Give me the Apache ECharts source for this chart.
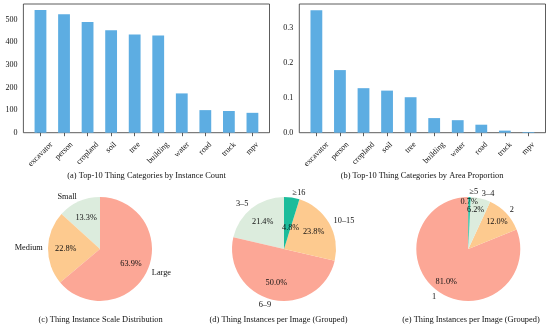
<!DOCTYPE html>
<html><head><meta charset="utf-8">
<script src="https://cdn.jsdelivr.net/npm/echarts@6/dist/echarts.min.js"></script>
<style>html,body{margin:0;padding:0;background:#fff}#c{width:550px;height:329px}</style>
</head><body><div id="c"></div>
<script>
const categories = ['excavator','person','cropland','soil','tree','building','water','road','truck','mpv'];
const instanceCounts = [543, 525, 490, 454, 435, 431, 174, 100, 96, 88];
const areaProportions = [0.352, 0.180, 0.128, 0.121, 0.102, 0.042, 0.036, 0.023, 0.006, 0.002];
const countTicks = [0, 100, 200, 300, 400, 500];
const areaTicks = [0, 0.1, 0.2, 0.3];
const scaleLabels = ['Small', 'Medium', 'Large'];
const scaleValues = [13.3, 22.8, 63.9];
const groupLabelsD = ['3–5', '6–9', '10–15', '≥16'];
const groupValuesD = [21.4, 50.0, 23.8, 4.8];
const groupLabelsE = ['1', '2', '3–4', '≥5'];
const groupValuesE = [81.0, 12.0, 6.2, 0.7];
const titles = ['(a) Top-10 Thing Categories by Instance Count','(b) Top-10 Thing Categories by Area Proportion',
  '(c) Thing Instance Scale Distribution','(d) Thing Instances per Image (Grouped)','(e) Thing Instances per Image (Grouped)'];

const FONT = '"Liberation Serif", "Times New Roman", serif';
const TXT = '#111';
const TICK_FS = 8;
const PIE_FS = 8.3;
const BAR = '#5dade2';
const C_GREEN = '#dcecdd', C_ORANGE = '#fdca8f', C_SALMON = '#fca796', C_TEAL = '#1bbc9b';

const ctx = document.createElement('canvas').getContext('2d');
ctx.font = TICK_FS + 'px ' + FONT;
const rich = {};
categories.forEach((c, i) => {
  const w = ctx.measureText(c).width;
  const p = 0.5 * (w + 9);
  rich['c' + i] = {padding: [p, p, 0, 0], fontSize: TICK_FS, fontFamily: FONT, color: TXT};
});

function barAxes(gi, ticks, max, fmt) {
  return {
    x: {gridIndex: gi, type: 'value', min: -0.725, max: 9.725,
      splitLine: {show: false}, axisLine: {show: false},
      axisTick: {show: true, length: 3.5, customValues: categories.map((_, i) => i), lineStyle: {color: '#333', width: 0.8}},
      axisLabel: {customValues: categories.map((_, i) => i), rotate: 45, align: 'center', verticalAlign: 'middle', margin: 7.5,
        formatter: v => '{c' + v + '|' + categories[v] + '}', rich: rich}},
    y: {gridIndex: gi, type: 'value', min: 0, max: max,
      splitLine: {show: false}, axisLine: {show: false},
      axisTick: {show: true, length: 3.5, customValues: ticks, lineStyle: {color: '#333', width: 0.8}},
      axisLabel: {customValues: ticks, margin: 6, fontSize: TICK_FS, fontFamily: FONT, color: TXT, formatter: fmt}}
  };
}
const a1 = barAxes(0, countTicks, 570, v => String(v));
const a2 = barAxes(1, areaTicks, 0.37, v => v.toFixed(1));

function pieSeries(center, labels, values, colors, innerFrac, shifts) {
  const R = 52;
  const data = labels.map((n, i) => ({name: n, value: values[i], itemStyle: {color: colors[i]}}));
  const prich = {n: {fontSize: PIE_FS, fontFamily: FONT, color: TXT}};
  (shifts || []).forEach((s, i) => {
    if (s) prich['s' + i] = {fontSize: PIE_FS, fontFamily: FONT, color: TXT, padding: s};
  });
  return [
    {type: 'pie', center: center, radius: R, startAngle: 90, clockwise: false, avoidLabelOverlap: false,
      silent: true, animation: false, data: data, labelLayout: {hideOverlap: false},
      label: {show: true, position: 'outside', fontSize: PIE_FS, fontFamily: FONT, color: TXT, distanceToLabelLine: 0, formatter: '{b}'},
      labelLine: {show: false, length: 5.2, length2: 0}},
    {type: 'pie', center: center, radius: [R * (2 * innerFrac - 1), R], startAngle: 90, clockwise: false, avoidLabelOverlap: false,
      silent: true, animation: false, minShowLabelAngle: 0, labelLayout: {hideOverlap: false},
      data: labels.map((n, i) => ({name: n, value: values[i]})),
      itemStyle: {color: 'rgba(0,0,0,0)', borderWidth: 0},
      label: {show: true, position: 'inside', fontSize: PIE_FS, fontFamily: FONT, color: TXT, rich: prich,
        formatter: p => '{' + (prich['s' + p.dataIndex] ? 's' + p.dataIndex : 'n') + '|' + p.value.toFixed(1) + '%}'},
      labelLine: {show: false}}
  ];
}

const chart = echarts.init(document.getElementById('c'), null, {renderer: 'canvas'});
chart.setOption({
  animation: false,
  title: [
    {text: titles[0], left: 146.5, top: 171.5, textAlign: 'center'},
    {text: titles[1], left: 422, top: 171.5, textAlign: 'center'},
    {text: titles[2], left: 100.5, top: 316, textAlign: 'center'},
    {text: titles[3], left: 278.5, top: 316, textAlign: 'center'},
    {text: titles[4], left: 471, top: 316, textAlign: 'center'}
  ].map(t => Object.assign(t, {padding: 0, textStyle: {fontSize: 8.4, fontWeight: 'normal', fontFamily: FONT, color: TXT}})),
  grid: [
    {left: 23.4, width: 246.1, top: 4, height: 128.7, show: true, borderColor: '#333', borderWidth: 0.8, backgroundColor: 'transparent'},
    {left: 299.3, width: 246.2, top: 4, height: 128.7, show: true, borderColor: '#333', borderWidth: 0.8, backgroundColor: 'transparent'}
  ],
  xAxis: [a1.x, a2.x],
  yAxis: [a1.y, a2.y],
  series: [
    {type: 'bar', xAxisIndex: 0, yAxisIndex: 0, barWidth: 11.8, itemStyle: {color: BAR}, silent: true,
      data: instanceCounts.map((v, i) => [i, v])},
    {type: 'bar', xAxisIndex: 1, yAxisIndex: 1, barWidth: 11.8, itemStyle: {color: BAR}, silent: true,
      data: areaProportions.map((v, i) => [i, v])},
    ...pieSeries([100, 249], scaleLabels, scaleValues, [C_GREEN, C_ORANGE, C_SALMON], 0.6),
    ...pieSeries([284, 249], groupLabelsD, groupValuesD, [C_GREEN, C_SALMON, C_ORANGE, C_TEAL], 0.6, [null, null, null, [26, 0, 0, 3]]),
    ...pieSeries([468.3, 249], groupLabelsE, groupValuesE, [C_SALMON, C_ORANGE, C_GREEN, C_TEAL], 0.7, [null, null, [0, 4, 2, 0], [0, 0, 16, 0]])
  ]
});
</script></body></html>
